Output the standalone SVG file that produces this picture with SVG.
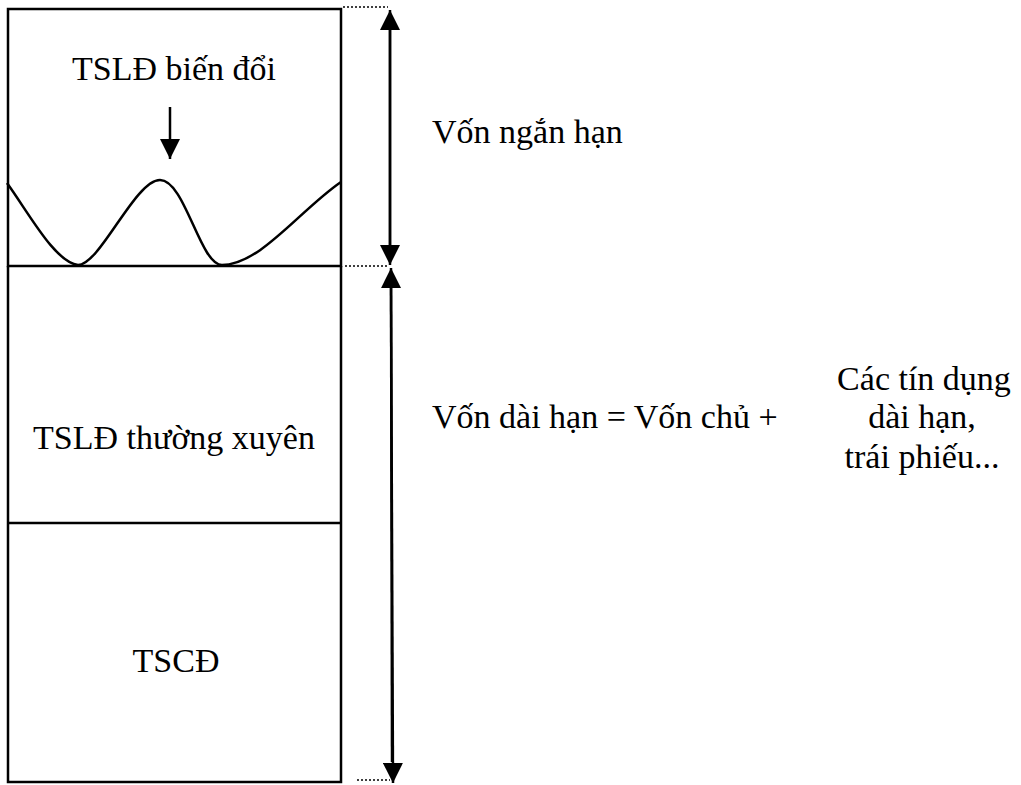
<svg xmlns="http://www.w3.org/2000/svg" width="1021" height="785" viewBox="0 0 1021 785">
<style>
.t{font-family:"Liberation Serif","Times New Roman","DejaVu Serif",serif;font-size:34px;fill:#000}
.ln{stroke:#000;stroke-width:2.5;fill:none}
.dot{stroke:#000;stroke-width:1.5;stroke-dasharray:2 2;fill:none}
</style>
<defs>
<marker id="ah" viewBox="0 0 20 20" refX="20" refY="10" markerWidth="20" markerHeight="20" markerUnits="userSpaceOnUse" orient="auto">
<path d="M0,0 L20,10 L0,20 Z" fill="#000"/>
</marker>
</defs>
<rect width="1021" height="785" fill="#fff"/>
<g id="node-bien-doi">
<path class="ln" d="M8,9 L341,9 L341,266 L8,266 Z"/>
<path class="ln" d="M7,183 C30,215 55,262 78,265 C100,265 135,180 160,180 C185,180 200,265 222,265 C260,265 300,210 341,182"/>
<text class="t" x="174" y="80" text-anchor="middle">TSLĐ biến đổi</text>
<line class="ln" x1="170" y1="107" x2="170" y2="159" marker-end="url(#ah)"/>
</g>
<g id="node-thuong-xuyen">
<path class="ln" d="M8,266 L8,523 M341,266 L341,523"/>
<text class="t" x="174" y="449" text-anchor="middle">TSLĐ thường xuyên</text>
</g>
<g id="node-tscd">
<path class="ln" d="M8,523 L341,523" stroke-width="4"/>
<path class="ln" d="M8,523 L8,782 L341,782 L341,523"/>
<text class="t" x="176" y="672" text-anchor="middle">TSCĐ</text>
</g>
<g id="connectors">
<line class="dot" x1="343" y1="7" x2="388" y2="7"/>
<line class="dot" x1="345" y1="266" x2="388" y2="266"/>
<line class="dot" x1="357" y1="780" x2="390" y2="780"/>
<line class="ln" x1="390" y1="245" x2="390" y2="10" marker-end="url(#ah)"/>
<line class="ln" x1="390" y1="30" x2="390" y2="265" marker-end="url(#ah)"/>
<line class="ln" x1="392" y1="762" x2="391" y2="268" marker-end="url(#ah)"/>
<line class="ln" x1="391" y1="288" x2="393" y2="783" marker-end="url(#ah)"/>
</g>
<g id="labels">
<text class="t" x="432" y="143">Vốn ngắn hạn</text>
<text class="t" x="432" y="428">Vốn dài hạn = Vốn chủ +</text>
<text class="t" x="924" y="390" text-anchor="middle">Các tín dụng</text>
<text class="t" x="922" y="428" text-anchor="middle">dài hạn,</text>
<text class="t" x="922" y="468" text-anchor="middle">trái phiếu...</text>
</g>
</svg>
